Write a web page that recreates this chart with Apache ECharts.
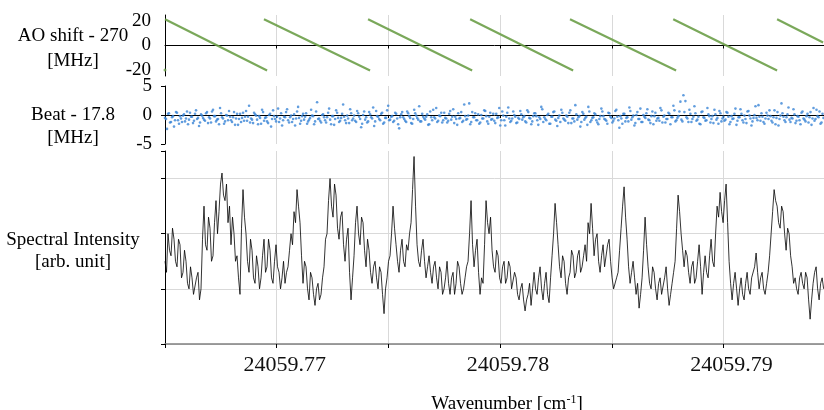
<!DOCTYPE html>
<html>
<head>
<meta charset="utf-8">
<script src="https://cdn.jsdelivr.net/npm/echarts@6.0.0/dist/echarts.min.js"></script>
<style>
html,body{margin:0;padding:0;background:#fff;}
#main{width:824px;height:410px;}
</style>
</head>
<body>
<div id="main"></div>
<script>
// wavenumber range shown [cm-1]
var xMin = 24059.765;
var xMax = 24059.7945;
var xTickStep = 0.005;

// AO shift - 270 MHz, sawtooth segments (null = reset)
var aoX = [24059.76500, 24059.76957, null,
           24059.76943, 24059.77418, null,
           24059.77409, 24059.77875, null,
           24059.77866, 24059.78327, null,
           24059.78313, 24059.78788, null,
           24059.78775, 24059.79240, null,
           24059.79240, 24059.79446];
var aoY = [21.5, -20.5, null,
           21.5, -20.5, null,
           21.5, -20.5, null,
           21.5, -20.5, null,
           21.5, -20.5, null,
           21.5, -20.5, null,
           21.5, 2.5];
var aoLoneX = [24059.7650];
var aoLoneY = [-20];

// Beat - 17.8 MHz, two sample passes (second one offset by half a step)
var beatStart = 24059.765;
var beatStep = 0.0000896;
var beatY = [
  -0.5,-2.4,0.3,-1.2,-0.2,-0.9,0.4,-1.5,-0.6,-0.1,-1.1,0.6,-0.8,-0.3,-1.4,0.2,-0.7,-1.9,0.1,-0.5,
  -1.0,0.5,-0.4,-1.3,0.9,-0.2,-0.8,-1.6,0.3,-0.6,-1.1,-0.1,0.7,-0.9,-0.4,-1.7,0.2,-0.7,-1.2,0.4,
  -0.3,-1.0,1.6,-0.6,-1.4,0.1,-0.8,-0.2,-1.5,0.5,-0.5,-1.1,0.0,-2.0,0.8,-0.7,-0.3,-1.2,0.3,-0.9,
  -0.4,1.0,-1.3,-0.1,-0.7,-1.8,0.6,-0.5,-1.0,0.2,-0.3,-1.5,-0.8,0.9,-0.2,-1.1,2.2,-0.6,-1.3,0.1,
  -0.9,-0.4,1.1,-1.6,-0.2,-0.7,0.4,-1.2,-0.5,1.8,-0.9,-0.1,-1.4,0.3,-0.6,-1.0,0.7,-0.3,-2.1,0.0,
  -0.8,-1.3,0.5,-0.4,1.3,-1.1,-0.2,-0.7,0.2,-1.5,-0.5,0.8,-0.9,-0.3,-1.2,0.4,-0.6,-2.3,0.1,-0.4,
  -1.0,0.6,-0.2,-1.4,-0.7,0.3,-0.5,1.5,-1.1,-0.3,-0.8,0.1,-1.6,-0.4,0.9,-0.6,-1.2,-0.1,0.4,-0.9,
  -0.5,-1.3,0.2,-0.8,1.0,-0.3,-1.7,-0.6,0.5,-1.0,-0.2,-0.7,2.0,-1.2,-0.4,0.3,-0.9,-1.5,0.0,-0.6,
  0.7,-1.1,-0.3,-0.8,0.2,-1.4,-0.5,1.2,-0.9,-0.1,-1.8,0.4,-0.6,-1.0,0.6,-0.3,-1.3,-0.7,0.1,-0.4,
  -1.1,0.8,-0.5,-1.6,-0.2,0.3,-0.9,-0.4,1.4,-1.2,-0.7,0.0,-1.5,-0.3,0.5,-0.8,-1.9,-0.1,0.9,-0.6,
  -1.0,-0.3,0.4,-1.4,-0.6,1.7,-0.8,-0.2,-1.2,0.2,-0.5,-1.7,0.6,-0.9,-0.4,0.1,-1.3,-0.7,1.1,-0.2,
  -0.8,-1.5,0.3,-0.5,-1.0,0.7,-0.3,-2.2,-0.6,0.2,-1.1,-0.4,1.3,-0.8,-0.1,-1.4,0.5,-0.7,-1.2,0.0,
  -0.5,1.0,-0.9,-0.2,-1.6,0.4,-0.6,-1.0,0.8,-0.3,-1.3,-0.7,0.2,-0.4,1.6,-1.1,-0.5,0.6,-0.8,3.4,
  2.4,-0.6,0.9,-1.2,-0.3,0.3,-0.8,-1.5,0.5,-0.4,-1.0,1.2,-0.2,-0.7,-1.4,0.1,-0.5,0.7,-1.1,-0.3,
  -0.8,0.4,-1.6,-0.2,-0.6,1.1,-1.0,-0.4,0.2,-1.3,-0.7,0.6,-0.1,-1.8,-0.5,1.5,-0.9,-0.3,0.3,-1.2,
  -0.6,-0.1,0.8,-1.0,-0.4,-1.6,0.5,-0.7,2.0,-0.3,-1.2,0.1,-0.8,-0.5,1.0,-1.4,-0.2,-0.9,0.4,-0.6,
  -1.1,0.2,-0.4,-1.7,1.2,-0.7,-0.2,0.6,-1.3,-0.5
];
var beatY2 = [
  -0.7,0.2,-1.3,-0.4,-2.0,0.5,-0.9,-0.2,-1.2,0.1,-0.6,-1.6,0.4,-0.3,-1.0,0.8,-0.5,-1.3,-0.1,-0.8,
  0.3,-1.4,-0.6,0.6,-0.2,-1.1,-0.7,1.2,-0.4,-1.5,0.0,-0.9,-0.3,-1.2,0.5,-0.6,-1.7,0.2,-0.5,-1.0,
  0.7,-0.3,-1.3,-0.8,0.4,-0.1,-1.6,-0.5,0.9,-1.0,-0.4,-1.4,0.2,-0.7,-0.2,-1.1,1.1,-0.6,-1.8,-0.3,
  0.5,-0.9,-0.4,-1.2,0.1,-0.6,1.4,-1.5,-0.2,-0.8,0.3,-1.1,-0.5,-0.1,-1.6,0.6,-0.7,-1.0,0.0,-0.4,
  -1.3,0.4,-0.8,-0.2,-1.7,0.8,-0.5,-1.0,0.2,-0.3,-1.4,-0.6,1.0,-0.9,-0.1,-1.2,0.3,-0.7,-1.5,0.6,
  -0.4,-1.1,0.1,-0.6,-1.9,0.7,-0.3,-0.9,0.4,-1.3,-0.5,1.6,-0.8,-0.2,-1.0,0.2,-1.6,-0.4,0.5,-0.7,
  -1.2,0.3,-0.5,-1.5,0.9,-0.1,-0.8,-1.1,0.2,-0.6,-0.3,-1.7,0.6,-0.9,-0.4,1.2,-1.0,-0.2,-1.3,0.4,
  -0.6,-1.0,0.7,-0.3,-1.4,-0.7,0.3,-0.5,-1.2,1.8,-0.8,-0.1,-1.6,0.5,-0.4,-0.9,0.1,-1.3,-0.6,0.8,
  -0.2,-1.5,0.4,-0.7,-1.0,0.2,-0.4,-1.8,0.6,-0.9,-0.3,1.3,-1.2,-0.6,0.0,-1.4,-0.5,0.7,-0.8,-0.2,
  -1.3,0.5,-0.6,-1.1,0.3,-0.2,-1.7,-0.7,1.0,-0.4,-0.9,0.2,-1.5,-0.3,0.6,-1.0,-0.5,-1.2,0.4,-0.8,
  -0.1,-1.4,0.8,-0.6,-1.1,0.1,-0.4,-2.0,0.5,-0.8,-0.3,1.4,-1.2,-0.5,0.3,-0.9,-1.6,-0.2,0.6,-0.7,
  -1.0,0.4,-0.3,-1.3,-0.6,0.9,-0.9,-0.2,-1.5,0.2,-0.5,-1.1,0.7,-0.4,-1.8,0.0,-0.7,1.1,-1.2,-0.3,
  0.3,-0.8,-1.4,0.6,-0.2,-1.0,-0.5,1.2,-1.3,-0.1,-0.7,0.4,-1.6,-0.4,0.8,-0.9,-0.2,2.3,-1.1,0.5,
  -0.4,-1.2,0.2,-0.7,1.5,-1.0,-0.3,-1.6,0.6,-0.5,-0.9,0.1,-1.3,-0.2,0.9,-0.8,-1.5,0.3,-0.6,-1.0,
  0.5,-0.3,-1.2,-0.7,0.2,-1.7,-0.4,1.0,-0.9,-0.1,-1.4,0.7,-0.6,-1.1,0.0,-0.5,1.7,-1.0,-0.3,-1.5,
  0.4,-0.7,-0.2,-1.3,0.8,-0.5,-1.8,-0.1,0.3,-0.9,-0.4,1.3,-1.2,-0.6,0.1,-1.0,-0.3,-1.6,0.6,-0.8,
  -0.2,-1.3,0.5,-0.6,-1.0,0.9,-0.4,-1.5,0.2,-0.8
];

// spectral intensity [arb. unit]
var specStart = 24059.765;
var specStep = 0.00006716;
var specY = [
  1.5,1.3,2.0,1.7,1.6,2.1,1.9,1.5,1.4,1.9,1.8,1.2,1.3,1.7,1.5,1.1,1.0,1.4,1.2,0.9,
  0.9,1.2,1.3,0.8,1.0,1.9,2.5,1.8,1.7,2.3,2.1,1.5,1.6,2.2,2.6,2.0,2.4,2.9,3.1,2.7,
  2.6,2.9,2.2,2.5,1.8,2.3,2.0,1.5,1.6,1.2,0.9,2.1,2.8,2.3,2.0,1.5,1.3,1.9,1.7,1.2,
  1.1,1.6,1.4,1.0,1.2,1.6,1.9,1.3,1.4,1.9,1.7,1.2,1.1,1.5,1.8,1.4,1.3,1.0,1.2,1.5,
  1.1,1.3,1.4,1.7,2.0,1.8,2.4,2.2,2.8,2.5,2.2,1.6,1.1,1.5,1.4,1.0,0.8,1.3,1.2,0.9,
  0.7,1.0,1.1,0.8,0.9,1.2,1.4,1.9,2.0,2.6,3.0,2.5,2.3,2.9,2.7,2.1,1.9,2.3,2.4,1.8,
  1.5,1.9,2.1,1.3,0.8,1.2,1.6,2.2,2.5,2.0,1.8,2.3,2.2,1.7,1.4,1.9,1.7,1.3,1.1,1.4,
  1.5,1.2,1.0,1.4,1.3,0.9,0.55,1.0,1.2,1.5,1.6,2.0,2.5,2.1,1.8,1.5,1.3,1.7,1.9,1.5,
  1.4,1.8,1.7,2.0,2.2,2.8,3.4,2.5,1.8,1.5,1.4,1.7,1.9,1.5,1.2,1.4,1.6,1.3,1.1,1.4,
  1.5,1.2,1.0,1.4,1.3,0.9,1.0,1.2,1.5,1.1,0.9,1.2,1.3,0.9,1.1,1.5,1.4,1.1,0.9,1.0,
  1.2,1.4,1.5,2.0,2.6,1.8,1.4,1.7,1.9,1.3,0.9,1.2,1.1,1.8,2.6,2.2,2.0,2.3,1.7,1.4,
  1.3,1.7,1.6,1.2,1.1,1.4,1.5,1.1,1.2,1.5,1.4,1.0,1.0,1.3,1.2,0.9,0.8,1.0,1.1,0.8,
  0.6,0.8,0.9,1.1,0.7,1.0,1.3,1.0,0.9,1.2,1.4,1.0,0.8,1.1,1.3,0.9,0.75,1.2,1.6,2.0,
  2.55,2.2,1.8,1.4,1.2,1.6,1.5,1.1,0.9,1.2,1.3,1.7,1.6,1.2,1.3,1.6,1.7,1.3,1.4,1.6,
  1.8,1.5,2.2,2.0,2.55,2.1,1.6,1.9,2.0,1.5,1.3,1.6,1.8,1.4,1.4,1.8,1.9,1.5,1.2,1.0,
  1.0,1.2,1.3,1.7,2.1,2.5,2.85,2.3,1.9,1.4,1.1,1.3,1.5,1.2,0.9,1.1,0.65,0.9,1.2,1.7,
  2.3,1.8,1.4,1.1,1.0,1.4,1.3,1.0,0.8,1.1,1.2,0.9,0.9,1.2,1.4,1.0,0.7,0.9,1.1,1.3,
  1.5,2.1,2.7,2.4,2.0,1.7,1.4,1.7,1.6,1.3,1.1,1.4,1.5,1.1,1.2,1.5,1.8,1.4,0.9,1.3,
  1.6,1.3,1.2,1.6,1.9,1.5,1.4,2.0,2.5,2.3,2.75,2.4,2.2,2.6,2.9,2.2,1.5,1.1,0.8,1.1,
  1.3,1.0,0.7,1.0,1.2,0.9,0.8,1.1,1.3,1.0,0.9,1.2,1.2,1.4,1.65,1.3,1.0,1.2,1.3,1.0,
  0.9,1.1,1.3,1.6,2.0,2.4,2.8,2.6,2.5,2.2,2.1,2.5,2.4,2.0,1.7,2.1,2.0,1.6,1.4,1.1,
  1.2,1.0,0.9,1.2,1.3,1.1,1.0,1.3,1.2,0.8,0.45,0.8,1.1,1.3,1.4,1.0,0.8,1.1,1.2,1.0
];

var serif = '"Liberation Serif", "DejaVu Serif", serif';
var gridColor = '#d9d9d9';

var aoData = aoX.map(function(x, i){
  return aoY[i] === null ? ['-', '-'] : [x, aoY[i]];
});
var aoLone = aoLoneX.map(function(x, i){ return [x, aoLoneY[i]]; });
var beatData = beatY.map(function(v, i){ return [beatStart + i * beatStep, v]; });
var beatData2 = beatY2.map(function(v, i){ return [beatStart + (i + 0.5) * beatStep, v]; });
var specData = specY.map(function(v, i){ return [specStart + i * specStep, v]; });

function xAxisFor(idx, showLabel){
  return {
    type: 'value',
    gridIndex: idx,
    min: xMin,
    max: xMax,
    interval: xTickStep,
    axisLine: {
      show: true,
      onZero: true,
      lineStyle: {color: showLabel ? '#808080' : '#000', width: showLabel ? 1.6 : 1}
    },
    axisTick: {show: true, length: showLabel ? 4 : 3, lineStyle: {color: '#000'}},
    splitLine: {show: true, showMaxLine: false, showMinLine: false, lineStyle: {color: gridColor, width: 1}},
    axisLabel: {
      show: showLabel,
      showMaxLabel: false,
      margin: 10,
      padding: [0, 0, 0, 16],
      fontFamily: serif,
      fontSize: 22,
      color: '#111',
      formatter: function(v){
        var k = Math.round((v - xMin) / xTickStep);
        return k % 2 === 1 ? v.toFixed(2) : '';
      }
    }
  };
}

var chart = echarts.init(document.getElementById('main'), null, {renderer: 'canvas'});
var option = {
  backgroundColor: '#fff',
  animation: false,
  grid: [
    {left: 165, right: 0, top: 15, height: 61},
    {left: 165, right: 0, top: 86, height: 58},
    {left: 165, right: 0, top: 151, height: 193}
  ],
  xAxis: [xAxisFor(0, false), xAxisFor(1, false), xAxisFor(2, true)],
  yAxis: [
    {
      type: 'value', gridIndex: 0, min: -25, max: 25, interval: 5,
      axisLine: {show: true, onZero: false, lineStyle: {color: '#000'}},
      axisTick: {show: false},
      splitLine: {show: false},
      axisLabel: {
        margin: 14, fontFamily: serif, fontSize: 19, color: '#000',
        formatter: function(v){ return (v === 20 || v === 0 || v === -20) ? String(v) : ''; }
      }
    },
    {
      type: 'value', gridIndex: 1, min: -5, max: 5, interval: 5,
      axisLine: {show: true, onZero: false, lineStyle: {color: '#000'}},
      axisTick: {show: true, length: 4, lineStyle: {color: '#000'}},
      splitLine: {show: false},
      axisLabel: {margin: 13, fontFamily: serif, fontSize: 19, color: '#000'}
    },
    {
      type: 'value', gridIndex: 2, min: 0, max: 3.5, interval: 1,
      axisLine: {show: true, onZero: false, lineStyle: {color: '#000'}},
      axisTick: {show: true, length: 4, lineStyle: {color: '#000'}},
      splitLine: {show: true, showMaxLine: false, lineStyle: {color: gridColor, width: 1}},
      axisLabel: {show: false}
    }
  ],
  graphic: [
    {type: 'text', x: 73, y: 36, style: {text: 'AO shift - 270', font: '19px ' + serif, fill: '#000', align: 'center', verticalAlign: 'middle'}},
    {type: 'text', x: 73, y: 61, style: {text: '[MHz]', font: '19px ' + serif, fill: '#000', align: 'center', verticalAlign: 'middle'}},
    {type: 'text', x: 73, y: 115, style: {text: 'Beat - 17.8', font: '19px ' + serif, fill: '#000', align: 'center', verticalAlign: 'middle'}},
    {type: 'text', x: 73, y: 138, style: {text: '[MHz]', font: '19px ' + serif, fill: '#000', align: 'center', verticalAlign: 'middle'}},
    {type: 'text', x: 73, y: 240, style: {text: 'Spectral Intensity', font: '19px ' + serif, fill: '#000', align: 'center', verticalAlign: 'middle'}},
    {type: 'text', x: 73, y: 262, style: {text: '[arb. unit]', font: '19px ' + serif, fill: '#000', align: 'center', verticalAlign: 'middle'}},
    {
      type: 'text', x: 507, y: 404,
      style: {
        text: '{a|Wavenumber [cm}{s|-1}{a|]}',
        align: 'center', verticalAlign: 'middle',
        rich: {
          a: {fontFamily: serif, fontSize: 19, fill: '#000'},
          s: {fontFamily: serif, fontSize: 12, fill: '#000', padding: [0, 0, 8, 0]}
        }
      }
    }
  ],
  series: [
    {
      name: 'AO shift', type: 'line', xAxisIndex: 0, yAxisIndex: 0,
      data: aoData, showSymbol: false, connectNulls: false,
      lineStyle: {color: '#6b9f48', width: 2.2, opacity: 0.9},
      itemStyle: {color: '#6b9f48'}
    },
    {
      name: 'AO lone', type: 'scatter', xAxisIndex: 0, yAxisIndex: 0,
      data: aoLone, symbolSize: 3,
      itemStyle: {color: '#6b9f48'}
    },
    {
      name: 'Beat', type: 'scatter', xAxisIndex: 1, yAxisIndex: 1,
      data: beatData, symbolSize: 2.6,
      itemStyle: {color: '#3a84d6'}
    },
    {
      name: 'Beat 2', type: 'scatter', xAxisIndex: 1, yAxisIndex: 1,
      data: beatData2, symbolSize: 2.6,
      itemStyle: {color: '#3a84d6'}
    },
    {
      name: 'Spectrum', type: 'line', xAxisIndex: 2, yAxisIndex: 2,
      data: specData, showSymbol: false,
      lineStyle: {color: '#000', width: 0.8}
    }
  ]
};
chart.setOption(option);
</script>
</body>
</html>
